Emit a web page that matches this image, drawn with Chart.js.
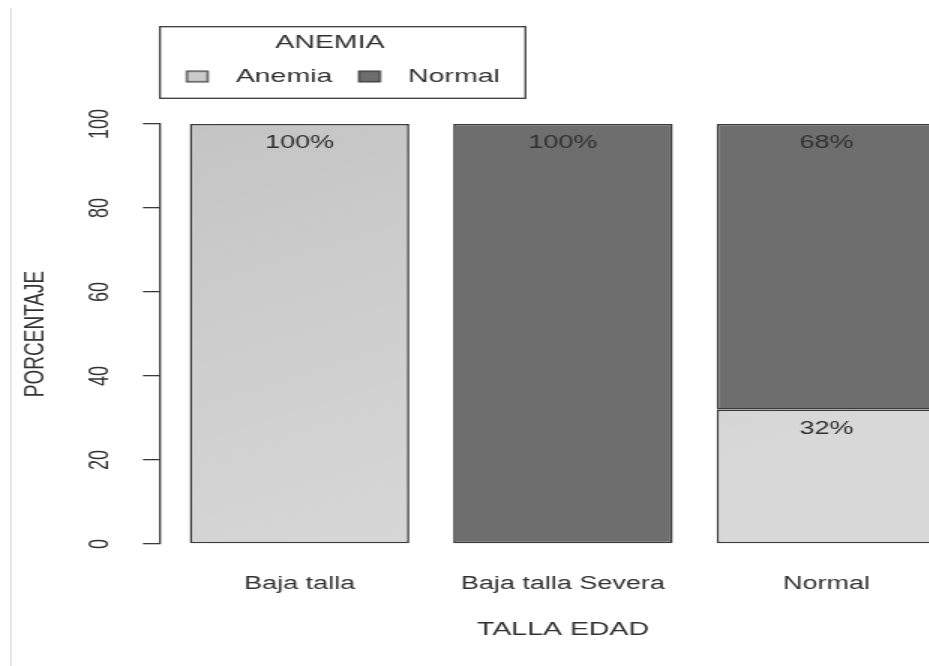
<!DOCTYPE html>
<html>
<head>
<meta charset="utf-8">
<script src="https://cdn.jsdelivr.net/npm/chart.js@4.4.1/dist/chart.umd.min.js"></script>
<style>
  html, body { margin: 0; padding: 0; width: 929px; height: 666px; overflow: hidden; background: #ffffff; }
  #edge { position: absolute; left: 10px; top: 8px; width: 2px; height: 658px; background: #e6e6e6; }
  #wrap { position: absolute; left: 0; top: 0; width: 650px; height: 666px; transform: scaleX(1.5); transform-origin: 0 0; }
  #c { display: block; }
</style>
</head>
<body>
<div id="edge"></div>
<div id="wrap"><canvas id="c" width="650" height="666"></canvas></div>
<script>
// ---- data ----
const categories = ['Baja talla', 'Baja talla Severa', 'Normal'];
const seriesNames = ['Anemia', 'Normal'];
const anemiaValues = [100, 0, 32];
const normalValues = [0, 100, 68];
const yTicks = [0, 20, 40, 60, 80, 100];
const legendTitle = 'ANEMIA';
const xTitle = 'TALLA EDAD';
const yTitle = 'PORCENTAJE';

// ---- styling ----
const FONT = "'Liberation Sans', Arial, sans-serif";
const TEXT = '#313131';
const EDGE = '#3a3a3a';
const LIGHT = '#cbcbcb';
const DARK = '#6e6e6e';

// R barplot layout: width 1, space 0.2
const barPos = categories.map((_, i) => 0.7 + 1.2 * i);

function lightFill(ctx) {
  const chart = ctx.chart;
  const area = chart.chartArea;
  if (!area) return LIGHT;
  const g = chart.ctx.createLinearGradient(area.left, area.top, area.left + 200, area.bottom);
  g.addColorStop(0, '#c4c4c4');
  g.addColorStop(1, '#d8d8d8');
  return g;
}

function makeSwatch(color) {
  const c = document.createElement('canvas');
  c.width = 31; c.height = 14;
  const g = c.getContext('2d');
  g.fillStyle = color;
  g.fillRect(7.3, 1, 15, 12);
  g.strokeStyle = EDGE;
  g.lineWidth = 1.2;
  g.strokeRect(7.9, 1.6, 13.8, 10.8);
  return c;
}
const swatchColors = [LIGHT, DARK];

const dataLabels = {
  id: 'dataLabels',
  afterDatasetsDraw(chart) {
    const ctx = chart.ctx;
    ctx.save();
    ctx.font = '18px ' + FONT;
    ctx.fillStyle = TEXT;
    ctx.textAlign = 'center';
    ctx.textBaseline = 'middle';
    chart.data.datasets.forEach((ds, i) => {
      const meta = chart.getDatasetMeta(i);
      meta.data.forEach((el, j) => {
        const v = ds.data[j].y;
        if (!v) return;
        ctx.fillText(v + '%', el.x, el.y + 19);
      });
    });
    ctx.restore();
  }
};

const legendFrame = {
  id: 'legendFrame',
  afterDraw(chart) {
    const lg = chart.legend;
    if (!lg || !lg.lineWidths) return;
    const ctx = chart.ctx;
    ctx.save();
    ctx.strokeStyle = EDGE;
    ctx.lineWidth = 1.3;
    const x0 = lg.left, x1 = lg.left + lg.lineWidths[0] + 17;
    const y0 = lg.top, y1 = lg.bottom + 2.3;
    ctx.strokeRect(x0, y0, x1 - x0, y1 - y0);
    ctx.restore();
  }
};

new Chart(document.getElementById('c'), {
  type: 'bar',
  data: {
    datasets: [
      {
        label: seriesNames[0],
        data: anemiaValues.map((v, i) => ({ x: barPos[i], y: v })),
        backgroundColor: lightFill,
        borderColor: EDGE,
        borderWidth: 1.6,
        borderSkipped: false
      },
      {
        label: seriesNames[1],
        data: normalValues.map((v, i) => ({ x: barPos[i], y: v })),
        backgroundColor: DARK,
        borderColor: EDGE,
        borderWidth: 1.6,
        borderSkipped: false
      }
    ]
  },
  options: {
    responsive: false,
    maintainAspectRatio: false,
    animation: false,
    devicePixelRatio: 1,
    categoryPercentage: 1,
    barPercentage: 1 / 1.2,
    layout: { padding: { top: 26.7, left: 4, right: 6, bottom: 24.6 } },
    scales: {
      x: {
        type: 'linear',
        stacked: true,
        offset: false,
        min: 0.064,
        max: 3.736,
        afterBuildTicks(scale) { scale.ticks = barPos.map(v => ({ value: v })); },
        grid: { display: false, drawTicks: false, offset: false },
        border: { display: false },
        ticks: {
          autoSkip: false,
          maxRotation: 0,
          minRotation: 0,
          padding: 29.2,
          color: TEXT,
          font: { family: FONT, size: 18 },
          callback: (v, i) => categories[i]
        },
        title: {
          display: true,
          text: xTitle,
          color: TEXT,
          font: { family: FONT, size: 19 },
          padding: { top: -5.4, bottom: 0 }
        }
      },
      y: {
        stacked: true,
        min: 0,
        max: 100,
        afterBuildTicks(scale) { scale.ticks = yTicks.map(v => ({ value: v })); },
        grid: { display: true, drawOnChartArea: false, drawTicks: true, tickLength: 11.33, color: EDGE, lineWidth: 1.3 },
        border: { display: true, color: EDGE, width: 1.3 },
        ticks: {
          minRotation: 90,
          maxRotation: 90,
          crossAlign: 'center',
          padding: 13.6,
          color: TEXT,
          font: { family: FONT, size: 18 }
        },
        title: {
          display: true,
          text: yTitle,
          color: TEXT,
          font: { family: FONT, size: 19 },
          padding: { top: 7.9, bottom: 11.8 }
        }
      }
    },
    plugins: {
      tooltip: { enabled: false },
      title: {
        display: true,
        text: ' ',
        position: 'top',
        fullSize: false,
        font: { size: 10 },
        padding: { top: 16, bottom: 0 }
      },
      legend: {
        display: true,
        position: 'top',
        align: 'start',
        fullSize: false,
        weight: 3000,
        title: {
          display: true,
          text: legendTitle,
          color: TEXT,
          font: { family: FONT, size: 19 },
          padding: { top: 6.8, bottom: 0.7 }
        },
        labels: {
          usePointStyle: true,
          pointStyleWidth: 31,
          padding: 10,
          color: TEXT,
          font: { family: FONT, size: 19 },
          generateLabels(chart) {
            return chart.data.datasets.map((ds, i) => ({
              text: ds.label,
              fillStyle: swatchColors[i],
              strokeStyle: EDGE,
              lineWidth: 1,
              hidden: false,
              datasetIndex: i,
              pointStyle: makeSwatch(swatchColors[i]),
              fontColor: TEXT
            }));
          }
        }
      }
    }
  },
  plugins: [dataLabels, legendFrame]
});
</script>
</body>
</html>
